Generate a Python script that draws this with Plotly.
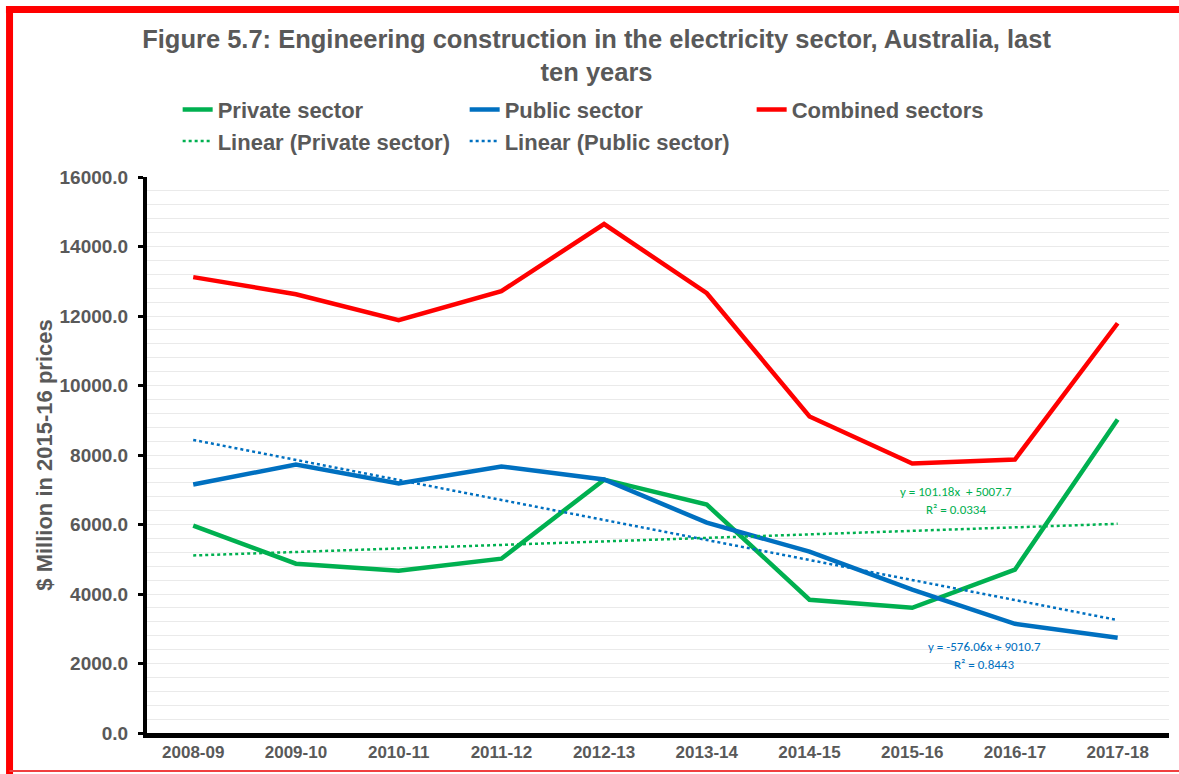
import plotly.graph_objects as go

# Engineering construction in the electricity sector ($m, 2015-16 prices)
anos = ["2008-09", "2009-10", "2010-11", "2011-12", "2012-13",
        "2013-14", "2014-15", "2015-16", "2016-17", "2017-18"]
privado = [5968, 4872, 4670, 5016, 7290, 6573, 3834, 3604, 4700, 9024]
publico = [7150, 7726, 7179, 7670, 7294, 6054, 5218, 4123, 3143, 2739]
combinado = [13118, 12627, 11878, 12714, 14646, 12656, 9110, 7755, 7870, 11791]

# coeficientes das linhas de tendencia (x = 1..10)
tendPrivado = (101.18, 5007.7, 0.0334)
tendPublico = (-576.06, 9010.7, 0.8443)

VERDE = "#00B050"
AZUL = "#0070C0"
VERMELHO = "#FF0000"
CINZA = "#595959"
FONTE = "Liberation Sans"

xs = list(range(1, len(anos) + 1))
linhaPrivado = [tendPrivado[0] * x + tendPrivado[1] for x in xs]
linhaPublico = [tendPublico[0] * x + tendPublico[1] for x in xs]

fig = go.Figure()
fig.add_trace(go.Scatter(x=anos, y=privado, name="Private sector", mode="lines",
                         line=dict(color=VERDE, width=4.5)))
fig.add_trace(go.Scatter(x=anos, y=publico, name="Public sector", mode="lines",
                         line=dict(color=AZUL, width=4.5)))
fig.add_trace(go.Scatter(x=anos, y=combinado, name="Combined sectors", mode="lines",
                         line=dict(color=VERMELHO, width=4.5)))
fig.add_trace(go.Scatter(x=anos, y=linhaPrivado, name="Linear (Private sector)", mode="lines",
                         line=dict(color=VERDE, width=2.5, dash="dot")))
fig.add_trace(go.Scatter(x=anos, y=linhaPublico, name="Linear (Public sector)", mode="lines",
                         line=dict(color=AZUL, width=2.5, dash="dot")))

# equacoes das tendencias
fonteEq = "Carlito, Lato, Liberation Sans"
fig.add_annotation(x=7.43, y=6950, xref="x", yref="y", showarrow=False,
                   text="y = 101.18x  + 5007.7",
                   font=dict(family=fonteEq, size=13, color=VERDE))
fig.add_annotation(x=7.43, y=6430, xref="x", yref="y", showarrow=False,
                   text="R² = %.4f" % tendPrivado[2],
                   font=dict(family=fonteEq, size=13, color=VERDE))
fig.add_annotation(x=7.70, y=2480, xref="x", yref="y", showarrow=False,
                   text="y = -576.06x + 9010.7",
                   font=dict(family=fonteEq, size=13, color=AZUL))
fig.add_annotation(x=7.70, y=1960, xref="x", yref="y", showarrow=False,
                   text="R² = %.4f" % tendPublico[2],
                   font=dict(family=fonteEq, size=13, color=AZUL))

# moldura vermelha (coordenadas paper: area do grafico 147..1169 x 177..733 px)
fig.add_shape(type="line", xref="paper", yref="paper", x0=-0.1345, x1=-0.1345,
              y0=-0.075, y1=1.301, line=dict(color=VERMELHO, width=7))
fig.add_shape(type="line", xref="paper", yref="paper", x0=-0.138, x1=1.03,
              y0=1.3012, y1=1.3012, line=dict(color=VERMELHO, width=7))
fig.add_shape(type="line", xref="paper", yref="paper", x0=-0.1345, x1=1.03,
              y0=-0.0683, y1=-0.0683, line=dict(color="#F04040", width=2))

fig.update_layout(
    width=1179, height=774,
    paper_bgcolor="white", plot_bgcolor="white",
    margin=dict(l=147, r=10, t=177, b=41),
    font=dict(family=FONTE, color=CINZA),
    title=dict(text="Figure 5.7: Engineering construction in the electricity sector, Australia, last<br>ten years",
               x=0.506, xanchor="center", y=0.938, yanchor="top",
               font=dict(family=FONTE, size=25.5, color=CINZA, weight="bold")),
    legend=dict(orientation="h", x=0.03, xanchor="left", y=1.159, yanchor="top",
                entrywidth=242, entrywidthmode="pixels",
                font=dict(family=FONTE, size=22, color=CINZA, weight="bold"),
                bgcolor="rgba(0,0,0,0)", traceorder="normal"),
    showlegend=True,
)

fig.update_xaxes(type="category", range=[-0.45, 9.5], automargin=False,
                 showline=True, linecolor="black", linewidth=5,
                 showgrid=False, ticks="", ticklabelstandoff=0,
                 tickfont=dict(family=FONTE, size=17, color=CINZA, weight="bold"))
fig.update_yaxes(range=[0, 16000], dtick=2000, tickformat=".1f", automargin=False,
                 showline=True, linecolor="black", linewidth=4,
                 ticks="outside", ticklen=5, tickwidth=3, tickcolor="black",
                 ticklabelstandoff=6,
                 showgrid=True, gridcolor="#EAEAEA", gridwidth=1, zeroline=False,
                 minor=dict(dtick=400, showgrid=True, gridcolor="#EAEAEA", gridwidth=1),
                 tickfont=dict(family=FONTE, size=19, color=CINZA, weight="bold"),
                 title=dict(text="$ Million in 2015-16 prices", standoff=2,
                            font=dict(family=FONTE, size=22, color=CINZA, weight="bold")))

# tira a margem padrao do <body> para a figura comecar no canto da janela
fig.write_html("out.html", config={"displayModeBar": False},
               post_script="document.body.style.margin='0';")
